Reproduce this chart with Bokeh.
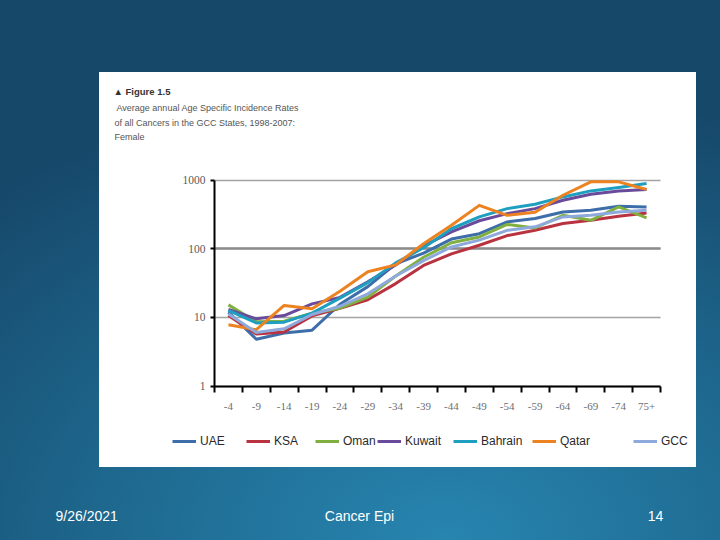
from bokeh.plotting import figure
from bokeh.models import (Range1d, LinearAxis, LogAxis, FixedTicker, Grid,
                          PrintfTickFormatter, Legend, LegendItem, Label,
                          CustomLabelingPolicy)
from bokeh.embed import file_html
from bokeh.resources import INLINE

# ---------------- data ----------------
ages = ["-4", "-9", "-14", "-19", "-24", "-29", "-34", "-39",
        "-44", "-49", "-54", "-59", "-64", "-69", "-74", "75+"]

uae     = [11.9, 4.8, 5.9, 6.5, 15.5, 28, 60, 86, 138, 165, 245, 275, 342, 362, 415, 405]
ksa     = [10.6, 5.7, 6.1, 10.5, 13.5, 18, 31, 57, 84, 112, 155, 185, 232, 259, 296, 331]
oman    = [15.2, 8.6, 8.8, 11.5, 13.6, 19.7, 40, 75, 122, 148, 225, 200, 306, 259, 405, 280]
kuwait  = [13.0, 9.5, 10.6, 15.7, 19.5, 33, 58, 110, 175, 255, 324, 383, 507, 620, 694, 730]
bahrain = [12.6, 8.3, 8.5, 11.5, 19, 32, 62, 103, 195, 290, 383, 443, 567, 694, 778, 887]
qatar   = [7.8, 6.6, 14.9, 13.3, 24, 46, 58, 118, 220, 427, 306, 340, 600, 940, 940, 727]
gcc     = [11.2, 6.0, 6.8, 11.0, 14.5, 22, 40, 67, 106, 133, 185, 208, 290, 306, 342, 362]

names = ["UAE", "KSA", "Oman", "Kuwait", "Bahrain", "Qatar", "GCC"]
values = [uae, ksa, oman, kuwait, bahrain, qatar, gcc]
colors = ["#3d6eaa", "#b8333f", "#80b040", "#6a4b9b", "#1f9fbf", "#ec8320", "#8ea9db"]

y_ticks = [1, 10, 100, 1000]

fig_title = "\u25B2 Figure 1.5"
title_lines = ["Average annual Age Specific Incidence Rates",
               "of all Cancers in the GCC States, 1998-2007:",
               "Female"]
footer_date, footer_mid, footer_num = "9/26/2021", "Cancer Epi", "14"

# ---------------- geometry (pixels inside the 720x540 canvas) ----------------
W, H = 720, 540
CH_L, CH_R = 214, 660          # chart plot area, left / right
CH_B, CH_T = 154.5, 360.5      # chart plot area, bottom / top (measured from canvas bottom)

n = len(ages)
px_per_cat = (CH_R - CH_L) / n
x_start = -CH_L / px_per_cat
x_end = n + (W - CH_R) / px_per_cat
decades = 3  # 1 .. 1000
px_per_dec = (CH_T - CH_B) / decades
y_start = 10 ** (-CH_B / px_per_dec)
y_end = 10 ** (decades + (H - CH_T) / px_per_dec)

xs = [i + 0.5 for i in range(n)]

FONT = "'Liberation Sans', Arial, sans-serif"
SERIF = "'Liberation Serif', serif"

# ---------------- figure ----------------
p = figure(width=W, height=H,
           x_range=Range1d(x_start, x_end), y_range=Range1d(y_start, y_end),
           y_axis_type="log", x_axis_location=None, y_axis_location=None,
           output_backend="svg", toolbar_location=None,
           min_border_left=0, min_border_right=0, min_border_top=0, min_border_bottom=0)

p.border_fill_color = None
p.background_fill_color = None
p.outline_line_color = None
p.xgrid.visible = False
p.ygrid.visible = False
p.styles = {
    "background": "linear-gradient(#ffffff,#ffffff) 99px 72px / 597px 395px no-repeat, "
                  "radial-gradient(ellipse 95% 85% at 62% 100%, #2785b0 0%, #1f6b92 45%, #16486a 100%)"
}

# horizontal grid lines, limited to the chart area
p.add_layout(Grid(dimension=1, ticker=FixedTicker(ticks=y_ticks), cross_bounds=(0, n),
                  grid_line_color="#a3a3a3", grid_line_width=1.5))
p.add_layout(Grid(dimension=1, ticker=FixedTicker(ticks=[y_ticks[2]]), cross_bounds=(0, n),
                  grid_line_color="#8c8c8c", grid_line_width=2.5))

# y axis (log)
ya = LogAxis(fixed_location=0, bounds=(y_ticks[0], y_ticks[-1]),
             ticker=FixedTicker(ticks=y_ticks), formatter=PrintfTickFormatter(format="%d"),
             minor_tick_line_color=None, major_tick_out=4, major_tick_in=0,
             major_tick_line_width=2, axis_line_width=2,
             major_label_standoff=5, major_label_text_font=SERIF,
             major_label_text_font_size="11.5px", major_label_text_color="#5a5a5a")
p.add_layout(ya, "left")

# x axis: tick marks at category boundaries (no labels)
no_labels = CustomLabelingPolicy(code="for (const i of indices) { indices.unset(i) }\nreturn indices")
xa_ticks = LinearAxis(fixed_location=y_ticks[0], bounds=(0, n),
                      ticker=FixedTicker(ticks=list(range(n + 1))),
                      major_label_policy=no_labels,
                      major_tick_out=6, major_tick_in=0, major_tick_line_width=2,
                      axis_line_width=2, minor_tick_line_color=None)
p.add_layout(xa_ticks, "below")
# x axis: category labels at centres
xa_labels = LinearAxis(fixed_location=y_ticks[0], bounds=(0, n),
                       ticker=FixedTicker(ticks=xs),
                       major_label_overrides={x: a for x, a in zip(xs, ages)},
                       major_tick_line_color=None, axis_line_color=None,
                       minor_tick_line_color=None, major_label_standoff=11,
                       major_label_text_font=SERIF, major_label_text_font_size="11px",
                       major_label_text_color="#6e6e6e")
p.add_layout(xa_labels, "below")

# lines
renderers = []
for nm, vals, col in zip(names, values, colors):
    r = p.line(x=xs, y=vals, line_color=col, line_width=3, line_join="round")
    renderers.append(r)

# legends (one per entry, placed like the original)
leg_x = [172, 246, 315, 377, 453, 532, 633]
for nm, r, lx in zip(names, renderers, leg_x):
    lg = Legend(items=[LegendItem(label=nm, renderers=[r])], location=(lx, 91),
                orientation="horizontal", glyph_width=24, glyph_height=16,
                label_standoff=4, padding=0, margin=0, spacing=0,
                border_line_color=None, background_fill_alpha=0,
                label_text_font=FONT, label_text_font_size="12px",
                label_text_color="#2a2a2a", label_height=16)
    p.add_layout(lg, "center")

# title block
p.add_layout(Label(x=113, y=449, x_units="screen", y_units="screen",
                   text=fig_title, text_font=FONT, text_font_style="bold",
                   text_font_size="9.5px", text_color="#333333", text_baseline="middle"))
for i, line in enumerate(title_lines):
    p.add_layout(Label(x=116 if i == 0 else 114, y=432.5 - 14.5 * i,
                       x_units="screen", y_units="screen",
                       text=line, text_font=FONT, text_font_size="9px",
                       text_color="#555555", text_baseline="middle"))

# slide footer
for txt, fx, al in [(footer_date, 55, "left"), (footer_mid, 359, "center"), (footer_num, 655, "center")]:
    p.add_layout(Label(x=fx, y=25, x_units="screen", y_units="screen", text=txt,
                       text_font=FONT, text_font_size="14px", text_color="white",
                       text_align=al, text_baseline="middle"))

open("out.html", "w").write(file_html(p, INLINE))
